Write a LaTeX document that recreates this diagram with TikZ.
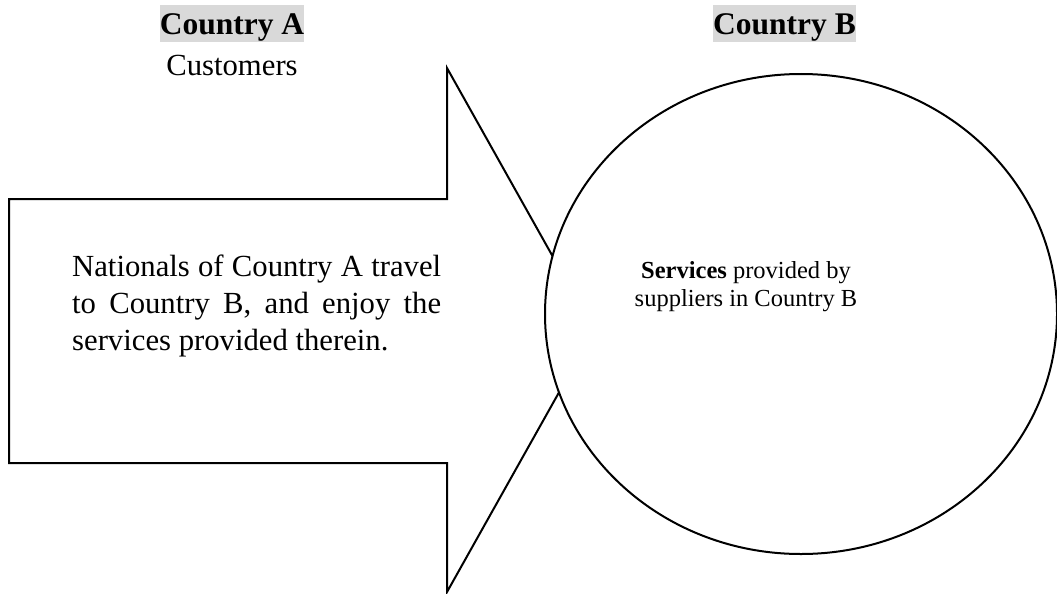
\documentclass[tikz,border=0pt]{standalone}
\usepackage{fontspec}
\setmainfont{Liberation Serif}
\usetikzlibrary{shapes.geometric}
\definecolor{hdgray}{HTML}{D9D9D9}
\begin{document}
\begin{tikzpicture}[x=1pt,y=-1pt,
  outline/.style={draw=black,line width=2pt,line join=miter},
  hd/.style={anchor=base,fill=hdgray,inner xsep=0pt,inner ysep=0pt,text height=30pt,text depth=7pt,font=\fontsize{31.5}{37}\selectfont\bfseries},
  bodytext/.style={font=\fontsize{30.7}{37}\selectfont},
  circtext/.style={font=\fontsize{24.5}{27.5}\selectfont}]
\useasboundingbox (0,0) rectangle (1057,594);
% arrow
\draw[outline,fill=white] (9,199) -- (447,199) -- (447,68) -- (594,330) -- (447,592) -- (447,463) -- (9,463) -- cycle;
% circle
\node[ellipse,outline,fill=white,minimum width=512pt,minimum height=480pt,inner sep=0pt] (cb) at (801,314) {};
% headings
\node[hd] (ha) at (232,35) {Country A};
\node[hd] (hb) at (784.5,35) {Country B};
\node[bodytext,anchor=base] (cust) at (232,75) {Customers};
% arrow text
\node[bodytext,anchor=base west,text width=369pt,align=justify,inner sep=0pt] (at) at (72,276)
  {Nationals of Country A travel to Country B, and enjoy the services provided therein.};
% circle text
\node[circtext,anchor=base,align=center,inner sep=0pt] (ct) at (746,306)
  {\textbf{Services} provided by\\suppliers in Country B};
\end{tikzpicture}
\end{document}
